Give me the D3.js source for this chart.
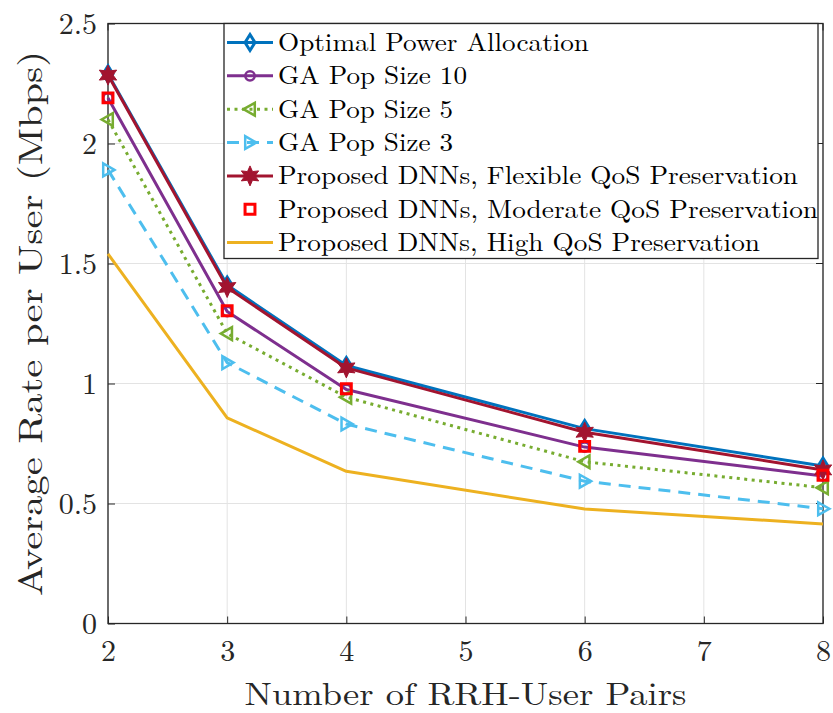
<!DOCTYPE html>
<html>
<head>
<meta charset="utf-8">
<script src="https://cdn.jsdelivr.net/npm/d3@7"></script>
<style>
  html, body { margin: 0; padding: 0; background: #fff; }
</style>
</head>
<body>
<svg id="chart" width="833" height="713"></svg>
<script>
// Number of RRH-user pairs at which each scheme was evaluated
const pairs = [2, 3, 4, 6, 8];

// Average rate per user (Mbps) for each scheme
const optimal   = [2.29, 1.41, 1.075, 0.812, 0.656];
const gaPop10   = [2.19, 1.30, 0.975, 0.735, 0.615];
const gaPop5    = [2.10, 1.208, 0.943, 0.674, 0.566];
const gaPop3    = [1.89, 1.087, 0.831, 0.593, 0.478];
const dnnFlex   = [2.285, 1.40, 1.065, 0.797, 0.640];
const dnnMod    = [2.19, 1.303, 0.978, 0.738, 0.618];
const dnnHigh   = [1.54, 0.857, 0.634, 0.477, 0.415];

const seriesNames = [
  "Optimal Power Allocation",
  "GA Pop Size 10",
  "GA Pop Size 5",
  "GA Pop Size 3",
  "Proposed DNNs, Flexible QoS Preservation",
  "Proposed DNNs, Moderate QoS Preservation",
  "Proposed DNNs, High QoS Preservation"
];

const xTicks = [2, 3, 4, 5, 6, 7, 8];
const yTicks = [0, 0.5, 1, 1.5, 2, 2.5];
const xTitle = "Number of RRH-User Pairs";
const yTitle = "Average Rate per User (Mbps)";

const FONT = '"Latin Modern Roman", "Liberation Serif", serif';
const INK = "#262626";

// Plot styling per series
const styles = [
  { color: "#0072BD", dash: null,    line: true,  marker: "diamond" },
  { color: "#7E2F8E", dash: null,    line: true,  marker: "circle" },
  { color: "#77AC30", dash: "3,4.5", line: true,  marker: "triLeft" },
  { color: "#4DBEEE", dash: "12,8",  line: true,  marker: "triRight" },
  { color: "#A2142F", dash: null,    line: true,  marker: "star" },
  { color: "#FF0000", dash: null,    line: false, marker: "square" },
  { color: "#EDB120", dash: null,    line: true,  marker: null }
];
const data = [optimal, gaPop10, gaPop5, gaPop3, dnnFlex, dnnMod, dnnHigh];

const svg = d3.select("#chart");
const m = { left: 108, right: 823, top: 23.5, bottom: 623.5 };

const x = d3.scaleLinear().domain([2, 8]).range([m.left, m.right]);
const y = d3.scaleLinear().domain([0, 2.5]).range([m.bottom, m.top]);

// Grid
const grid = svg.append("g");
grid.selectAll("line.gx").data(xTicks).join("line")
  .attr("x1", d => x(d)).attr("x2", d => x(d))
  .attr("y1", m.top).attr("y2", m.bottom)
  .attr("stroke", "#e3e3e3").attr("stroke-width", 1);
grid.selectAll("line.gy").data(yTicks).join("line")
  .attr("x1", m.left).attr("x2", m.right)
  .attr("y1", d => y(d)).attr("y2", d => y(d))
  .attr("stroke", "#e3e3e3").attr("stroke-width", 1);

// Axes
const xAxis = d3.axisBottom(x).tickValues(xTicks).tickFormat(d3.format("d")).tickSizeInner(-7).tickSizeOuter(0).tickPadding(16);
const yAxis = d3.axisLeft(y).tickValues(yTicks).tickFormat(d => d).tickSizeInner(-7).tickSizeOuter(0).tickPadding(11);

const gx = svg.append("g").attr("transform", `translate(0,${m.bottom})`).call(xAxis);
const gy = svg.append("g").attr("transform", `translate(${m.left},0)`).call(yAxis);
[gx, gy].forEach(g => {
  g.select(".domain").remove();
  g.selectAll(".tick line").attr("stroke", INK).attr("stroke-width", 1);
  g.selectAll(".tick text").attr("fill", INK)
    .style("font-family", FONT).style("font-size", "30px");
});
// Ticks on the top and right edges
svg.append("g").selectAll("line").data(xTicks).join("line")
  .attr("x1", d => x(d)).attr("x2", d => x(d)).attr("y1", m.top).attr("y2", m.top + 7)
  .attr("stroke", INK);
svg.append("g").selectAll("line").data(yTicks).join("line")
  .attr("x1", m.right).attr("x2", m.right - 7).attr("y1", d => y(d)).attr("y2", d => y(d))
  .attr("stroke", INK);

// Box
svg.append("rect")
  .attr("x", m.left).attr("y", m.top)
  .attr("width", m.right - m.left).attr("height", m.bottom - m.top)
  .attr("fill", "none").attr("stroke", INK).attr("stroke-width", 1.3);

// Marker shapes
function markerPath(type, s) {
  switch (type) {
    case "diamond": return `M0,${-s}L${s*0.62},0L0,${s}L${-s*0.62},0Z`;
    case "circle":  return d3.symbol(d3.symbolCircle, Math.PI * s * s * 0.45)();
    case "triLeft": return `M${-s*0.8},0L${s*0.6},${-s*0.8}L${s*0.6},${s*0.8}Z`;
    case "triRight":return `M${s*0.8},0L${-s*0.6},${-s*0.8}L${-s*0.6},${s*0.8}Z`;
    case "square":  return `M${-s*0.55},${-s*0.55}H${s*0.55}V${s*0.55}H${-s*0.55}Z`;
    case "star": {
      const pts = [];
      for (let i = 0; i < 12; i++) {
        const r = i % 2 === 0 ? s : s * 0.5;
        const a = -Math.PI / 2 + i * Math.PI / 6;
        pts.push([r * Math.cos(a), r * Math.sin(a)]);
      }
      return "M" + pts.map(p => p.join(",")).join("L") + "Z";
    }
  }
  return "";
}
function drawMarker(g, type, color, cx, cy) {
  if (!type) return;
  const sizes = { diamond: 8, circle: 7, triLeft: 8, triRight: 8, square: 9, star: 10 };
  const s = sizes[type];
  const p = g.append("path").attr("d", markerPath(type, s))
    .attr("transform", `translate(${cx},${cy})`);
  if (type === "star") {
    p.attr("fill", color).attr("stroke", color).attr("stroke-width", 1);
  } else if (type === "square" || type === "diamond") {
    p.attr("fill", "none").attr("stroke", color).attr("stroke-width", 3);
  } else {
    p.attr("fill", "none").attr("stroke", color).attr("stroke-width", 2.5);
  }
}

const line = d3.line().x((d, i) => x(pairs[i])).y(d => y(d));
const plot = svg.append("g");
data.forEach((vals, k) => {
  const st = styles[k];
  const g = plot.append("g");
  if (st.line) {
    g.append("path").attr("d", line(vals))
      .attr("fill", "none").attr("stroke", st.color).attr("stroke-width", 3)
      .attr("stroke-linejoin", "round")
      .attr("stroke-dasharray", st.dash);
  }
  vals.forEach((v, i) => drawMarker(g, st.marker, st.color, x(pairs[i]), y(v)));
});

// Legend
const leg = svg.append("g");
const legX = 224, legTop = 23.5, legRight = 818, rowH = 33.35, firstRow = 42.5;
leg.append("rect").attr("x", legX).attr("y", legTop)
  .attr("width", legRight - legX).attr("height", 235)
  .attr("fill", "#fff").attr("stroke", INK).attr("stroke-width", 1.3);
const legWidths = [311, 189, 175, 175, 520, 540, 482];
seriesNames.forEach((name, k) => {
  const st = styles[k];
  const cy = firstRow + k * rowH;
  const g = leg.append("g");
  if (st.line) {
    g.append("line").attr("x1", 227).attr("x2", 273).attr("y1", cy).attr("y2", cy)
      .attr("stroke", st.color).attr("stroke-width", 3)
      .attr("stroke-dasharray", st.dash);
  }
  drawMarker(g, st.marker, st.color, 250, cy);
  g.append("text").attr("x", 278).attr("y", cy + 8.5)
    .style("font-family", FONT).style("font-size", "25.5px").attr("fill", "#000")
    .attr("textLength", legWidths[k]).attr("lengthAdjust", "spacingAndGlyphs")
    .text(name);
});

// Axis titles
svg.append("text").attr("x", (m.left + m.right) / 2).attr("y", 705)
  .style("font-family", FONT).style("font-size", "32px").attr("fill", INK)
  .attr("text-anchor", "middle")
  .attr("textLength", 442).attr("lengthAdjust", "spacingAndGlyphs")
  .text(xTitle);
svg.append("text")
  .attr("transform", `translate(42,${(m.top + m.bottom) / 2}) rotate(-90)`)
  .style("font-family", FONT).style("font-size", "33px").attr("fill", INK)
  .attr("text-anchor", "middle")
  .attr("textLength", 545).attr("lengthAdjust", "spacingAndGlyphs")
  .text(yTitle);
</script>
</body>
</html>
